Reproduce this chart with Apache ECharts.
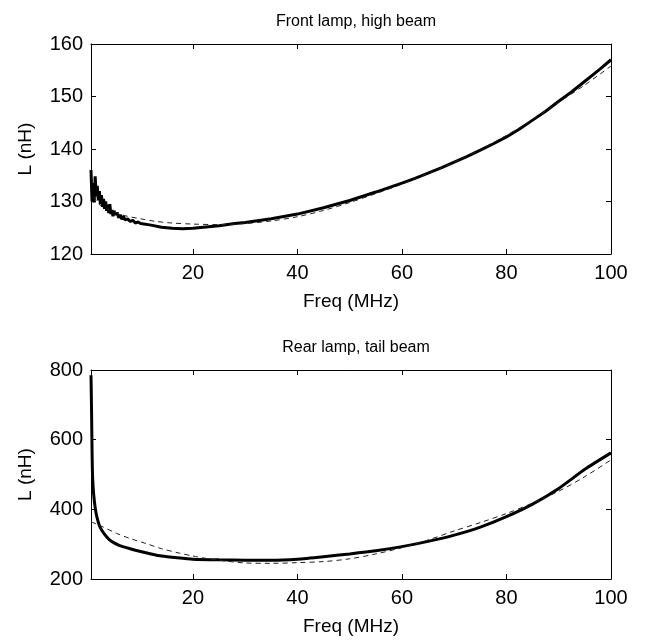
<!DOCTYPE html>
<html>
<head>
<meta charset="utf-8">
<script src="https://cdn.jsdelivr.net/npm/echarts@6/dist/echarts.min.js"></script>
<style>html,body{margin:0;padding:0;background:#fff}#c{width:646px;height:642px}</style>
</head>
<body>
<div id="c"></div>
<script>
// Front lamp, high beam — measured (solid)
var frontFreq = [0.5,0.7,0.9,1.1,1.3,1.5,1.7,1.9,2.1,2.3,2.5,2.7,2.9,3.1,3.3,3.5,3.7,3.9,4.1,4.3,4.5,4.7,4.9,5.2,5.5,5.8,6.1,6.4,6.7,7,7.5,8,8.5,9,9.5,10,12,14,16,18,20,22,25,28,30,35,40,45,50,55,60,62.5,65,67.5,70,72.5,75,77.5,80,82.5,85,87.5,90,92.5,95,97,98,100];
var frontMeas = [136,130,133.5,129.8,134.8,131,133,130.2,132,129.5,131.2,129,130.5,128.6,130,128.2,129.4,127.8,129.5,127.6,128.4,127.2,128.2,127.5,127.9,126.9,127.5,126.6,127.2,126.5,126.7,126.2,126.4,125.9,126.1,125.8,125.5,125.1,124.9,124.8,124.9,125.1,125.4,125.8,126.0,126.7,127.6,128.8,130.2,131.8,133.5,134.4,135.4,136.4,137.5,138.6,139.8,141.0,142.3,143.8,145.5,147.2,149.1,150.9,152.9,154.5,155.3,157.0];
// Front lamp — model (dashed)
var frontModelFreq = [1,2,3,5,7,10,13,16,20,25,30,35,40,45,50,55,60,65,70,75,80,85,90,95,100];
var frontModel = [131,129.5,128.8,128.0,127.3,126.7,126.2,125.9,125.7,125.6,125.8,126.3,127.1,128.3,129.8,131.5,133.3,135.3,137.5,139.9,142.6,145.6,148.9,152.2,155.8];

// Rear lamp, tail beam — measured (solid)
var rearFreq = [0.5,0.6,0.7,0.8,1.0,1.3,1.6,2.2,3,4,5,6,8,10,12,14,17,20,25,30,35,40,45,50,55,60,65,70,75,80,85,90,95,100];
var rearMeas = [785,690,570,495,445,405,380,350,330,313,303,296,287,279,272,266,261,257,255,254,254,257,264,272,281,293,308,326,349,379,415,460,515,562];
// Rear lamp — model (dashed)
var rearModelFreq = [0.5,2,5.4,8,11,14,17.5,20,22.6,26,30,35,40,45,50,55,60,65,70,75,80,85,90,95,100];
var rearModel = [364,355,331,316,302,287,274,266,259,252,246,245,247,250,258,272,290,312,338,362,388,418,452,494,542];

var xTicks = [20,40,60,80,100];
var frontYTicks = [120,130,140,150,160];
var rearYTicks = [200,400,600,800];

function pairs(xs, ys){ return xs.map(function(x,i){ return [x, ys[i]]; }); }

var FONT = 'Liberation Sans';
var axisLine = {show:true, lineStyle:{color:'#000', width:1}};

function xAxes(gi){
  return [{
    gridIndex: gi, type:'value', min:0.5, max:100, position:'bottom',
    axisLine: axisLine,
    axisTick: {show:true, inside:true, length:5, lineStyle:{color:'#000'}, customValues:xTicks},
    axisLabel: {show:true, color:'#000', fontFamily:FONT, fontSize:20, margin:9, customValues:xTicks},
    splitLine:{show:false},
    name:'Freq (MHz)', nameLocation:'middle', nameGap:38,
    nameTextStyle:{color:'#000', fontFamily:FONT, fontSize:19}
  },{
    gridIndex: gi, type:'value', min:0.5, max:100, position:'top',
    axisLine: axisLine,
    axisTick: {show:true, inside:true, length:5, lineStyle:{color:'#000'}, customValues:xTicks},
    axisLabel: {show:false}, splitLine:{show:false}
  }];
}
function yAxes(gi, mn, mx, iv, ticks){
  return [{
    gridIndex: gi, type:'value', min:mn, max:mx, interval:iv, position:'left',
    axisLine: axisLine,
    axisTick: {show:true, inside:true, length:5, lineStyle:{color:'#000'}},
    axisLabel: {show:true, color:'#000', fontFamily:FONT, fontSize:20, margin:8},
    splitLine:{show:false},
    name:'L (nH)', nameLocation:'middle', nameGap:56, nameRotate:90,
    nameTextStyle:{color:'#000', fontFamily:FONT, fontSize:19}
  },{
    gridIndex: gi, type:'value', min:mn, max:mx, interval:iv, position:'right',
    axisLine: axisLine,
    axisTick: {show:true, inside:true, length:5, lineStyle:{color:'#000'}},
    axisLabel: {show:false}, splitLine:{show:false}
  }];
}

var option = {
  animation:false,
  backgroundColor:'#fff',
  title:[
    {text:'Front lamp, high beam', left:351, top:9, textAlign:'center',
     textStyle:{color:'#000', fontFamily:FONT, fontSize:16, fontWeight:'normal'}},
    {text:'Rear lamp, tail beam', left:351, top:335, textAlign:'center',
     textStyle:{color:'#000', fontFamily:FONT, fontSize:16, fontWeight:'normal'}}
  ],
  grid:[
    {left:91, right:35, top:44, height:210},
    {left:91, right:35, top:370, height:209}
  ],
  xAxis: xAxes(0).concat(xAxes(1)),
  yAxis: yAxes(0,120,160,10,frontYTicks).concat(yAxes(1,200,800,200,rearYTicks)),
  series:[
    {type:'line', xAxisIndex:0, yAxisIndex:0, data:pairs(frontModelFreq, frontModel), showSymbol:false, smooth:0.3,
     lineStyle:{color:'#222', width:1, type:[5,4]}, z:3},
    {type:'line', xAxisIndex:0, yAxisIndex:0, data:pairs(frontFreq, frontMeas), showSymbol:false,
     lineStyle:{color:'#000', width:3}, z:2},
    {type:'line', xAxisIndex:2, yAxisIndex:2, data:pairs(rearModelFreq, rearModel), showSymbol:false, smooth:0.3,
     lineStyle:{color:'#222', width:1, type:[5,4]}, z:3},
    {type:'line', xAxisIndex:2, yAxisIndex:2, data:pairs(rearFreq, rearMeas), showSymbol:false, smooth:0.2,
     lineStyle:{color:'#000', width:3}, z:2}
  ]
};
echarts.init(document.getElementById('c'), null, {renderer:'canvas'}).setOption(option);
</script>
</body>
</html>
